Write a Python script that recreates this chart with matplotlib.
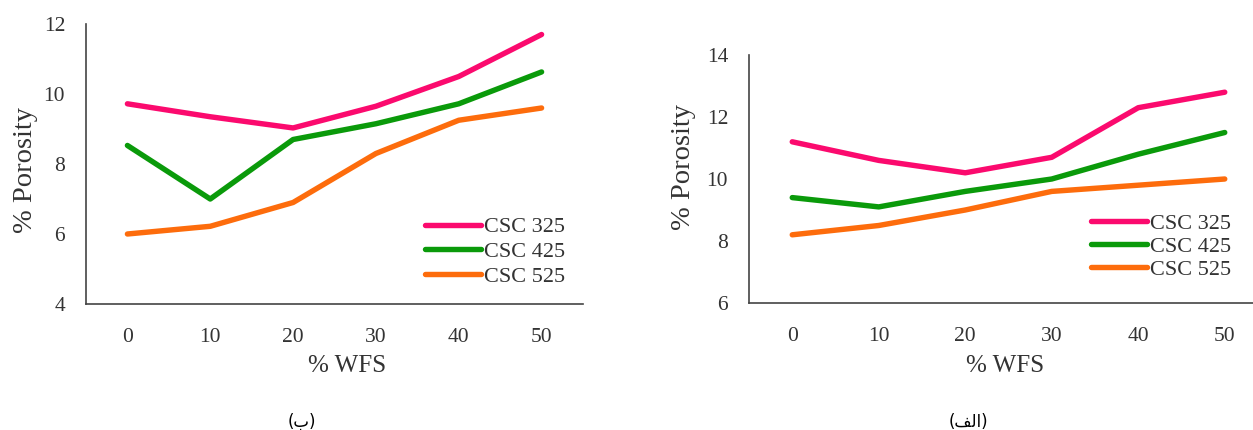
import matplotlib
matplotlib.use('Agg')
import matplotlib.pyplot as plt

plt.rcParams['font.family'] = ['Liberation Serif', 'DejaVu Serif']

wfs = [0, 10, 20, 30, 40, 50]
series_names = ['CSC 325', 'CSC 425', 'CSC 525']
colors = ['#fb0a6e', '#0a9a0a', '#fd6c0c']

# panel (ب) - left
left_325 = [9.72, 9.35, 9.03, 9.65, 10.5, 11.7]
left_425 = [8.53, 7.0, 8.7, 9.15, 9.72, 10.63]
left_525 = [6.0, 6.22, 6.9, 8.3, 9.25, 9.6]

# panel (الف) - right
right_325 = [11.2, 10.6, 10.2, 10.7, 12.3, 12.8]
right_425 = [9.4, 9.1, 9.6, 10.0, 10.8, 11.5]
right_525 = [8.2, 8.5, 9.0, 9.6, 9.8, 10.0]

W, H = 1253, 430
fig = plt.figure(figsize=(W / 100, H / 100), dpi=100)


def panel(rect, data, ylim, yticks, ylab_xy, xlab_xy, leg_xy, labspace):
    ax = fig.add_axes(rect)
    idx = range(len(wfs))
    for vals, name, c in zip(data, series_names, colors):
        ax.plot(idx, vals, color=c, lw=3.9, label=name,
                solid_capstyle='round', solid_joinstyle='round')
    ax.set_xlim(-0.5, len(wfs) - 0.5)
    ax.set_ylim(*ylim)
    ax.set_xticks(list(idx))
    ax.set_xticklabels([str(v) for v in wfs])
    ax.set_yticks(yticks)
    ax.tick_params(length=0, labelsize=15.5, colors='#333333')
    ax.tick_params(axis='y', pad=15)
    ax.tick_params(axis='x', pad=17)
    for s in ['top', 'right']:
        ax.spines[s].set_visible(False)
    for s in ['left', 'bottom']:
        ax.spines[s].set_color('#444444')
        ax.spines[s].set_linewidth(1.2)
    ax.set_ylabel('% Porosity', fontsize=20.5, color='#333333')
    ax.yaxis.set_label_coords(*ylab_xy)
    ax.yaxis.label.set_va('center')
    ax.set_xlabel('% WFS', fontsize=18, color='#333333')
    ax.xaxis.set_label_coords(*xlab_xy)
    ax.xaxis.label.set_va('center')
    leg = ax.legend(loc='upper left', bbox_to_anchor=leg_xy, frameon=False,
                    fontsize=16, handlelength=2.5, handletextpad=0.14,
                    labelspacing=labspace, borderpad=0, borderaxespad=0)
    for t in leg.get_texts():
        t.set_color('#333333')
    return ax


panel([86 / W, 1 - 304 / H, 497 / W, 280 / H],
      [left_325, left_425, left_525], (4, 12), [4, 6, 8, 10, 12],
      (-0.122, 0.479), (0.525, -0.221), (0.682, 0.311), 0.18)

panel([749 / W, 1 - 303 / H, 519 / W, 248 / H],
      [right_325, right_425, right_525], (6, 14), [6, 8, 10, 12, 14],
      (-0.127, 0.548), (0.493, -0.254), (0.659, 0.363), 0.11)

cap_font = ['DejaVu Sans']
fig.text(302 / W, 1 - 422 / H, '(ب)', ha='center', va='center',
         fontsize=12, family=cap_font)
# visual order with Arabic presentation forms so the word joins correctly
fig.text(968 / W, 1 - 422 / H, '(\uFED2\uFEDF\uFE8D)', ha='center', va='center',
         fontsize=12, family=cap_font)

fig.savefig('out.png', dpi=100)
